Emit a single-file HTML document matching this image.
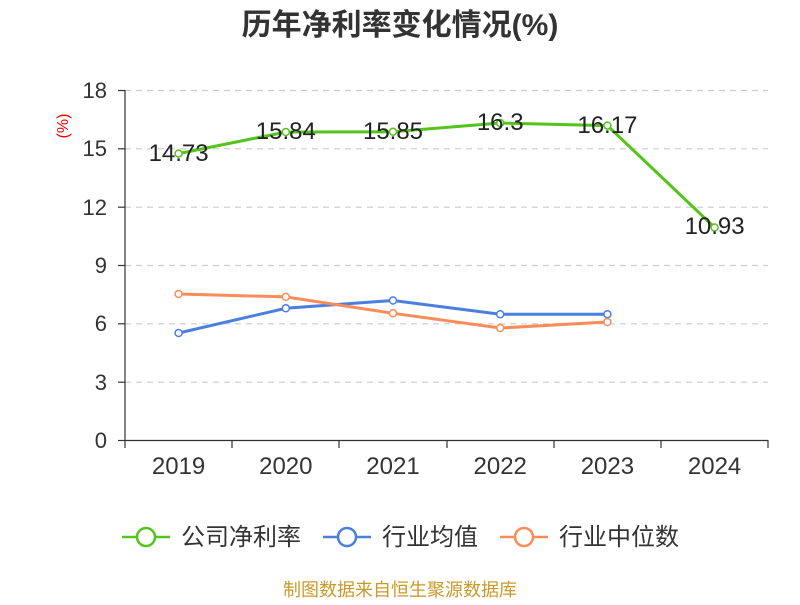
<!DOCTYPE html>
<html><head><meta charset="utf-8"><style>
body{margin:0;background:#fff;width:800px;height:600px;overflow:hidden}
svg text{font-family:"Liberation Sans","Noto Sans CJK SC",sans-serif}
</style></head><body>
<svg width="800" height="600" xmlns="http://www.w3.org/2000/svg">
<text x="400" y="35" text-anchor="middle" font-size="30" font-weight="bold" fill="#333">历年净利率变化情况(%)</text>
<text x="68" y="126" font-size="16" fill="#e00" transform="rotate(-90 68 126)" text-anchor="middle">(%)</text>
<g stroke="#ccc" stroke-dasharray="6,5" stroke-width="1.2">
<line x1="125" y1="90.5" x2="768" y2="90.5"/><line x1="125" y1="148.8" x2="768" y2="148.8"/>
<line x1="125" y1="207.2" x2="768" y2="207.2"/><line x1="125" y1="265.5" x2="768" y2="265.5"/>
<line x1="125" y1="323.8" x2="768" y2="323.8"/><line x1="125" y1="382.2" x2="768" y2="382.2"/>
</g>
<g stroke="#333" stroke-width="1.2">
<line x1="125" y1="90" x2="125" y2="440"/><line x1="125" y1="440.5" x2="768" y2="440.5"/>
<line x1="118" y1="90.5" x2="125" y2="90.5"/><line x1="118" y1="148.8" x2="125" y2="148.8"/><line x1="118" y1="207.2" x2="125" y2="207.2"/><line x1="118" y1="265.5" x2="125" y2="265.5"/><line x1="118" y1="323.8" x2="125" y2="323.8"/><line x1="118" y1="382.2" x2="125" y2="382.2"/><line x1="118" y1="440.5" x2="125" y2="440.5"/>
<line x1="125" y1="440" x2="125" y2="448"/><line x1="232" y1="440" x2="232" y2="448"/><line x1="339" y1="440" x2="339" y2="448"/><line x1="447" y1="440" x2="447" y2="448"/><line x1="554" y1="440" x2="554" y2="448"/><line x1="661" y1="440" x2="661" y2="448"/><line x1="768" y1="440" x2="768" y2="448"/>
</g>
<g font-size="22" fill="#333" text-anchor="end">
<text x="107" y="98">18</text><text x="107" y="156">15</text><text x="107" y="215">12</text><text x="107" y="273">9</text><text x="107" y="331">6</text><text x="107" y="390">3</text><text x="107" y="448">0</text>
</g>
<g font-size="24" fill="#333" text-anchor="middle">
<text x="178.6" y="474">2019</text><text x="285.8" y="474">2020</text><text x="393" y="474">2021</text><text x="500.2" y="474">2022</text><text x="607.4" y="474">2023</text><text x="714.6" y="474">2024</text>
</g>
<polyline fill="none" stroke="#52c41a" stroke-width="3" points="178.6,153.6 285.8,132 393,131.8 500.2,123 607.4,125.6 714.6,227.5"/>
<polyline fill="none" stroke="#4a7fe0" stroke-width="3" points="178.6,333 285.8,308.3 393,300.5 500.2,314.2 607.4,314.2"/>
<polyline fill="none" stroke="#fa8c5a" stroke-width="3" points="178.6,294 285.8,296.9 393,313.3 500.2,328 607.4,322"/>
<g fill="#fff" stroke-width="1.5">
<g stroke="#52c41a"><circle cx="178.6" cy="153.6" r="3.5"/><circle cx="285.8" cy="132" r="3.5"/><circle cx="393" cy="131.8" r="3.5"/><circle cx="500.2" cy="123" r="3.5"/><circle cx="607.4" cy="125.6" r="3.5"/><circle cx="714.6" cy="227.5" r="3.5"/></g>
<g stroke="#4a7fe0"><circle cx="178.6" cy="333" r="3.5"/><circle cx="285.8" cy="308.3" r="3.5"/><circle cx="393" cy="300.5" r="3.5"/><circle cx="500.2" cy="314.2" r="3.5"/><circle cx="607.4" cy="314.2" r="3.5"/></g>
<g stroke="#fa8c5a"><circle cx="178.6" cy="294" r="3.5"/><circle cx="285.8" cy="296.9" r="3.5"/><circle cx="393" cy="313.3" r="3.5"/><circle cx="500.2" cy="328" r="3.5"/><circle cx="607.4" cy="322" r="3.5"/></g>
</g>
<g font-size="24" fill="#222" text-anchor="middle">
<text x="178.6" y="161">14.73</text><text x="285.8" y="139">15.84</text><text x="393" y="139">15.85</text><text x="500.2" y="130">16.3</text><text x="607.4" y="133">16.17</text><text x="714.6" y="234">10.93</text>
</g>
<g stroke-width="2.5" fill="#fff">
<line x1="122" y1="537" x2="170" y2="537" stroke="#52c41a"/><circle cx="146" cy="537" r="9" stroke="#52c41a"/>
<line x1="323" y1="537" x2="371" y2="537" stroke="#4a7fe0"/><circle cx="347" cy="537" r="9" stroke="#4a7fe0"/>
<line x1="500" y1="537" x2="548" y2="537" stroke="#fa8c5a"/><circle cx="524" cy="537" r="9" stroke="#fa8c5a"/>
</g>
<g font-size="24" fill="#333">
<text x="181" y="545">公司净利率</text><text x="382" y="545">行业均值</text><text x="559" y="545">行业中位数</text>
</g>
<text x="400" y="596" text-anchor="middle" font-size="18" fill="#c89a2a">制图数据来自恒生聚源数据库</text>
</svg>
</body></html>
